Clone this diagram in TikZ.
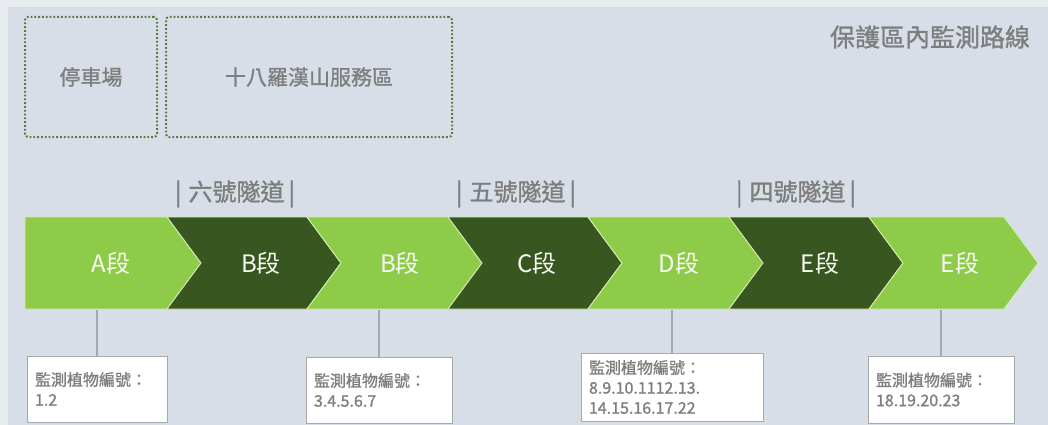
\documentclass[tikz,border=0pt]{standalone}
\usepackage{fontspec}
\setmainfont{Noto Sans CJK TC}
\newfontfamily\medfont[FakeBold=1.2]{Noto Sans CJK TC}
\definecolor{bgcol}{HTML}{D8DEE8}
\definecolor{edgecol}{HTML}{E8EBF0}
\definecolor{lightg}{HTML}{8DCB48}
\definecolor{darkg}{HTML}{385620}
\definecolor{rimcol}{HTML}{D2EDAE}
\definecolor{txtgray}{HTML}{7E7E7E}
\definecolor{dotcol}{HTML}{5B7A3B}
\definecolor{conncol}{HTML}{A4A8B0}
\definecolor{boxrim}{HTML}{A8A8A8}
\begin{document}
\begin{tikzpicture}[x=1pt,y=-1pt,
  zone/.style={draw=dotcol, line width=2pt, dash pattern=on 1.8pt off 2pt, rounded corners=3pt, inner sep=0pt, text=txtgray, font=\medfont\fontsize{21}{24}\selectfont},
  title/.style={text=txtgray, font=\medfont\fontsize{25}{28}\selectfont, inner sep=0pt},
  tunnel/.style={text=txtgray, font=\medfont\fontsize{24}{26}\selectfont, inner sep=0pt},
  seglbl/.style={text=white!94!lightg, font=\fontsize{24}{26}\selectfont, inner sep=0pt},
  lightpiece/.style={fill=lightg, draw=rimcol, line width=0.9pt, line join=miter},
  darkpiece/.style={fill=darkg, draw=rimcol, line width=0.9pt, line join=miter},
  infobox/.style={draw=boxrim, fill=white, line width=0.9pt, align=left, inner xsep=8pt, inner ysep=0pt, text=txtgray, font=\medfont\fontsize{16}{20}\selectfont},
  conn/.style={draw=conncol, line width=1.2pt}]
\useasboundingbox (0,0) rectangle (1048,425);
\fill[edgecol] (0,0) rectangle (1048,425);
\fill[bgcol] (8,7) rectangle (1048,425);

% zones
\node[zone, minimum width=132pt, minimum height=120pt] (park) at (91,77) {停車場};
\node[zone, minimum width=286pt, minimum height=120pt] (service) at (309,77) {十八羅漢山服務區};
\node[title] (ttl) at (930,37) {保護區內監測路線};

% tunnels
\node[tunnel] (t6) at (235,194) {|\hspace{7pt}六號隧道\hspace{4pt}|};
\node[tunnel] (t5) at (516,194) {|\hspace{7pt}五號隧道\hspace{4pt}|};
\node[tunnel] (t4) at (796,194) {|\hspace{7pt}四號隧道\hspace{4pt}|};

% chevrons
\path[lightpiece] (25,217) -- (167,217) -- (201,263) -- (167,309) -- (25,309) -- cycle;
\path[darkpiece] (167,217) -- (307,217) -- (341,263) -- (307,309) -- (167,309) -- (201,263) -- cycle;
\path[lightpiece] (307,217) -- (448,217) -- (482,263) -- (448,309) -- (307,309) -- (341,263) -- cycle;
\path[darkpiece] (448,217) -- (588,217) -- (622,263) -- (588,309) -- (448,309) -- (482,263) -- cycle;
\path[lightpiece] (588,217) -- (729,217) -- (763,263) -- (729,309) -- (588,309) -- (622,263) -- cycle;
\path[darkpiece] (729,217) -- (869,217) -- (903,263) -- (869,309) -- (729,309) -- (763,263) -- cycle;
\path[lightpiece] (869,217) -- (1004,217) -- (1038,263) -- (1004,309) -- (869,309) -- (903,263) -- cycle;

\node[seglbl] (sA) at (111,263) {A段};
\node[seglbl] (sB1) at (261,263) {B段};
\node[seglbl] (sB2) at (400,263) {B段};
\node[seglbl] (sC) at (537,263) {C段};
\node[seglbl] (sD) at (679,263) {D段};
\node[seglbl] (sE1) at (820,263) {E段};
\node[seglbl] (sE2) at (960,263) {E段};

% info boxes
\coordinate (c1) at (97,310);
\coordinate (c2) at (379,310);
\coordinate (c3) at (672,310);
\coordinate (c4) at (941,310);
\node[infobox, text width=124pt, minimum height=66pt] (n1) at (97,389) {監測植物編號：\\1.2};
\node[infobox, text width=130pt, minimum height=66pt] (n2) at (379,390) {監測植物編號：\\3.4.5.6.7};
\node[infobox, text width=166pt, minimum height=68pt] (n3) at (672,387) {監測植物編號：\\8.9.10.1112.13.\\14.15.16.17.22};
\node[infobox, text width=130pt, minimum height=67pt] (n4) at (941,389.5) {監測植物編號：\\18.19.20.23};
\draw[conn] (c1) -- (n1.north);
\draw[conn] (c2) -- (n2.north);
\draw[conn] (c3) -- (n3.north);
\draw[conn] (c4) -- (n4.north);
\end{tikzpicture}
\end{document}
